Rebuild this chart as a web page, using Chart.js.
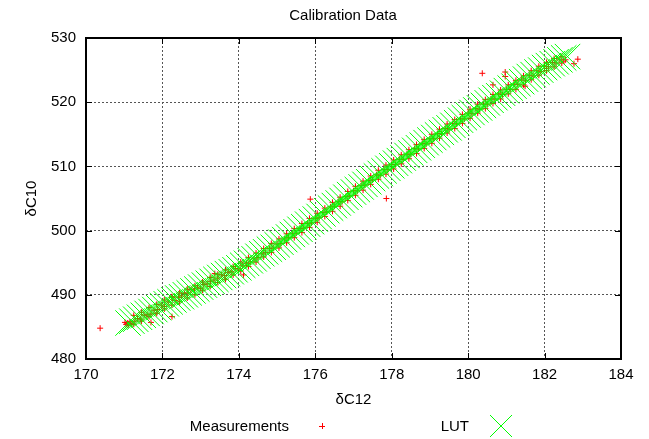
<!DOCTYPE html>
<html>
<head>
<meta charset="utf-8">
<script src="https://cdn.jsdelivr.net/npm/chart.js@4.4.1/dist/chart.umd.min.js"></script>
<style>
body { margin: 0; background: #fff; }
#wrap { width: 649px; height: 439px; }
</style>
</head>
<body>
<div id="wrap"><canvas id="calChart" width="649" height="439"></canvas></div>
<script>
// measured points (δC12, δC10): core of the band plus the outliers
const measX = [
  170.37, 171.02, 171.05, 171.08, 171.10, 171.12, 171.15, 171.20, 171.28, 171.35,
  171.43, 171.52, 171.60, 171.70, 171.70, 171.78, 171.88, 171.97, 172.05, 172.15,
  172.25, 172.25, 172.33, 172.42, 172.50, 172.58, 172.67, 172.75, 172.84, 172.92,
  173.00, 173.08, 173.17, 173.26, 173.37, 173.35, 173.45, 173.55, 173.62, 173.72,
  173.80, 173.90, 174.00, 174.12, 174.10, 174.20, 174.30, 174.40, 174.50, 174.60,
  174.70, 174.80, 174.90, 175.00, 175.10, 175.20, 175.30, 175.40, 175.50, 175.60,
  175.70, 175.80, 175.87, 175.90, 176.00, 176.10, 176.20, 176.30, 176.40, 176.50,
  176.60, 176.70, 176.80, 176.90, 177.00, 177.10, 177.20, 177.30, 177.40, 177.50,
  177.60, 177.70, 177.80, 177.86, 177.90, 178.00, 178.10, 178.20, 178.30, 178.40,
  178.50, 178.60, 178.70, 178.80, 178.90, 179.00, 179.10, 179.20, 179.30, 179.40,
  179.50, 179.60, 179.70, 179.80, 179.90, 180.00, 180.10, 180.20, 180.30, 180.37,
  180.40, 180.50, 180.60, 180.65, 180.70, 180.80, 180.90, 180.97, 180.97, 181.00,
  181.10, 181.20, 181.30, 181.40, 181.49, 181.50, 181.60, 181.70, 181.80, 181.90,
  182.00, 182.10, 182.20, 182.30, 182.40, 182.50, 182.55, 182.77, 182.87
];
const measY = [
  484.8, 485.7, 485.4, 485.6, 485.3, 485.5, 485.8, 485.5, 485.9, 486.3,
  486.2, 486.8, 486.9, 487.0, 485.7, 487.6, 487.7, 488.4, 488.2, 488.9,
  489.6, 486.6, 489.1, 489.6, 489.8, 490.2, 490.3, 490.8, 490.9, 491.2,
  491.0, 491.6, 491.7, 492.1, 493.3, 492.3, 492.6, 493.1, 493.0, 493.5,
  493.6, 494.1, 494.0, 493.1, 494.6, 494.9, 495.1, 495.6, 495.8, 496.4,
  496.6, 497.2, 497.3, 497.9, 498.0, 498.7, 498.9, 499.5, 499.6, 500.3,
  500.4, 501.1, 504.9, 501.2, 501.9, 502.0, 502.8, 502.9, 503.7, 503.8,
  504.5, 504.5, 505.3, 505.4, 506.2, 506.2, 507.0, 507.1, 507.8, 507.9,
  508.7, 508.6, 509.5, 505.0, 509.5, 510.3, 510.3, 511.1, 511.1, 511.9,
  511.9, 512.8, 512.7, 513.6, 513.5, 514.3, 514.3, 515.1, 515.1, 515.9,
  515.8, 516.7, 516.6, 517.4, 517.4, 518.3, 518.2, 519.0, 518.9, 524.5,
  519.7, 519.7, 520.5, 522.7, 520.5, 521.3, 521.2, 524.7, 524.0, 522.0,
  522.0, 522.8, 522.8, 523.6, 522.5, 523.4, 524.2, 524.1, 524.9, 524.8,
  525.6, 525.5, 526.2, 526.1, 526.6, 526.4, 526.6, 526.0, 526.7
];

// measured points scattered along both edges of the band
const edgeX = [
  171.25, 171.45, 171.65, 171.85, 172.05, 172.25, 172.45, 172.65, 172.85, 173.05,
  173.25, 173.45, 173.65, 173.85, 174.05, 174.25, 174.45, 174.65, 174.85, 175.05,
  175.25, 175.45, 175.65, 175.85, 176.05, 176.25, 176.45, 176.65, 176.85, 177.05,
  177.25, 177.45, 177.65, 177.85, 178.05, 178.25, 178.45, 178.65, 178.85, 179.05,
  179.25, 179.45, 179.65, 179.85, 180.05, 180.25, 180.45, 180.65, 180.85, 181.05,
  181.25, 181.45, 181.65, 181.85, 182.05, 182.25, 182.45
];
const edgeYUpper = [
  486.8, 487.3, 488.0, 488.5, 489.2, 489.7, 490.3, 490.9, 491.4, 492.0,
  492.7, 493.2, 493.9, 494.4, 495.1, 495.8, 496.5, 497.2, 498.0, 498.7,
  499.5, 500.3, 501.1, 501.9, 502.7, 503.5, 504.4, 505.2, 506.1, 506.9,
  507.7, 508.5, 509.4, 510.2, 511.0, 511.8, 512.6, 513.4, 514.2, 515.0,
  515.8, 516.6, 517.3, 518.1, 518.9, 519.7, 520.4, 521.2, 521.9, 522.7,
  523.4, 524.1, 524.9, 525.6, 526.2, 526.8, 527.1
];
const edgeYLower = [
  485.4, 485.9, 486.6, 487.1, 487.8, 488.4, 488.9, 489.5, 490.0, 490.7,
  491.3, 491.9, 492.4, 493.1, 493.7, 494.4, 495.1, 495.9, 496.6, 497.3,
  498.1, 498.9, 499.7, 500.5, 501.3, 502.2, 503.0, 503.8, 504.7, 505.5,
  506.3, 507.2, 508.0, 508.8, 509.6, 510.4, 511.2, 512.0, 512.8, 513.6,
  514.4, 515.2, 515.9, 516.7, 517.5, 518.3, 519.0, 519.8, 520.5, 521.3,
  522.0, 522.7, 523.5, 524.2, 524.9, 525.5, 526.1
];

// look-up table points
const lutX = [
  171.1, 171.2, 171.3, 171.4, 171.5, 171.6, 171.7, 171.8, 171.9, 172.0,
  172.1, 172.2, 172.3, 172.4, 172.5, 172.6, 172.7, 172.8, 172.9, 173.0,
  173.1, 173.2, 173.3, 173.4, 173.5, 173.6, 173.7, 173.8, 173.9, 174.0,
  174.1, 174.2, 174.3, 174.4, 174.5, 174.6, 174.7, 174.8, 174.9, 175.0,
  175.1, 175.2, 175.3, 175.4, 175.5, 175.6, 175.7, 175.8, 175.9, 176.0,
  176.1, 176.2, 176.3, 176.4, 176.5, 176.6, 176.7, 176.8, 176.9, 177.0,
  177.1, 177.2, 177.3, 177.4, 177.5, 177.6, 177.7, 177.8, 177.9, 178.0,
  178.1, 178.2, 178.3, 178.4, 178.5, 178.6, 178.7, 178.8, 178.9, 179.0,
  179.1, 179.2, 179.3, 179.4, 179.5, 179.6, 179.7, 179.8, 179.9, 180.0,
  180.1, 180.2, 180.3, 180.4, 180.5, 180.6, 180.7, 180.8, 180.9, 181.0,
  181.1, 181.2, 181.3, 181.4, 181.5, 181.6, 181.7, 181.8, 181.9, 182.0,
  182.1, 182.2, 182.3, 182.4, 182.5, 182.6
];
const lutY = [
  485.6, 485.9, 486.2, 486.5, 486.8, 487.1, 487.4, 487.7, 488.0, 488.3,
  488.6, 488.9, 489.2, 489.5, 489.7, 490.0, 490.3, 490.6, 490.9, 491.2,
  491.5, 491.8, 492.1, 492.4, 492.7, 493.0, 493.3, 493.6, 493.9, 494.2,
  494.6, 494.9, 495.3, 495.6, 496.0, 496.4, 496.7, 497.1, 497.4, 497.8,
  498.2, 498.6, 499.0, 499.4, 499.8, 500.2, 500.6, 501.0, 501.4, 501.8,
  502.2, 502.6, 503.1, 503.5, 503.9, 504.3, 504.7, 505.2, 505.6, 506.0,
  506.4, 506.8, 507.2, 507.6, 508.1, 508.5, 508.9, 509.3, 509.7, 510.1,
  510.5, 510.9, 511.3, 511.7, 512.1, 512.5, 512.9, 513.3, 513.7, 514.1,
  514.5, 514.9, 515.3, 515.7, 516.0, 516.4, 516.8, 517.2, 517.6, 518.0,
  518.4, 518.8, 519.1, 519.5, 519.9, 520.3, 520.7, 521.0, 521.4, 521.8,
  522.2, 522.5, 522.9, 523.2, 523.6, 524.0, 524.3, 524.7, 525.0, 525.4,
  525.7, 526.0, 526.3, 526.6, 526.9, 527.1
];

const xTicks = [170, 172, 174, 176, 178, 180, 182, 184];
const yTicks = [480, 490, 500, 510, 520, 530];

const FONT = 'Liberation Sans, Arial, sans-serif';
const RED = '#ff0000';
const GREEN = '#00ff00';

const measPoints = measX.map((v, i) => ({x: v, y: measY[i]}))
  .concat(edgeX.map((v, i) => ({x: v, y: edgeYUpper[i]})))
  .concat(edgeX.map((v, i) => ({x: v, y: edgeYLower[i]})));

// gnuplot-like frame, inward tics, title and key
const gnuplotLook = {
  id: 'gnuplotLook',
  afterDatasetsDraw(chart) {
    const {ctx, chartArea: a, scales: {x, y}} = chart;
    ctx.save();
    ctx.strokeStyle = '#000';
    ctx.lineWidth = 1;
    ctx.beginPath();
    xTicks.forEach(v => {
      const px = Math.round(x.getPixelForValue(v)) + 0.5;
      ctx.moveTo(px, a.bottom); ctx.lineTo(px, a.bottom - 6);
      ctx.moveTo(px, a.top); ctx.lineTo(px, a.top + 6);
    });
    yTicks.forEach(v => {
      const py = Math.round(y.getPixelForValue(v)) + 0.5;
      ctx.moveTo(a.left, py); ctx.lineTo(a.left + 6, py);
      ctx.moveTo(a.right, py); ctx.lineTo(a.right - 6, py);
    });
    ctx.stroke();
    ctx.lineWidth = 2;
    ctx.strokeRect(a.left, a.top, a.right - a.left, a.bottom - a.top);
    ctx.restore();
  },
  afterDraw(chart) {
    const ctx = chart.ctx;
    ctx.save();
    ctx.fillStyle = '#000';
    ctx.font = '15px ' + FONT;
    ctx.textBaseline = 'middle';
    ctx.textAlign = 'center';
    ctx.fillText('Calibration Data', 343, 16);

    ctx.textAlign = 'right';
    ctx.fillText('Measurements', 289, 427);
    ctx.fillText('LUT', 469, 427);

    ctx.lineWidth = 1;
    ctx.strokeStyle = RED;
    ctx.beginPath();
    ctx.moveTo(319, 426.5); ctx.lineTo(325, 426.5);
    ctx.moveTo(322.5, 423); ctx.lineTo(322.5, 429);
    ctx.stroke();

    ctx.strokeStyle = GREEN;
    ctx.beginPath();
    ctx.moveTo(490, 415); ctx.lineTo(512, 437);
    ctx.moveTo(512, 415); ctx.lineTo(490, 437);
    ctx.stroke();
    ctx.restore();
  }
};

new Chart(document.getElementById('calChart'), {
  type: 'scatter',
  data: {
    datasets: [{
      label: 'Measurements',
      data: measPoints,
      pointStyle: 'cross',
      pointRadius: 3,
      borderColor: RED,
      backgroundColor: RED,
      borderWidth: 1,
      order: 1
    }, {
      label: 'LUT',
      data: lutX.map((v, i) => ({x: v, y: lutY[i]})),
      pointStyle: 'crossRot',
      pointRadius: 18,
      borderColor: GREEN,
      backgroundColor: GREEN,
      borderWidth: 1,
      order: 0
    }]
  },
  options: {
    responsive: false,
    animation: false,
    events: [],
    layout: { padding: { left: 0, right: 28, top: 38, bottom: 30 } },
    plugins: {
      legend: { display: false },
      title: { display: false },
      tooltip: { enabled: false }
    },
    scales: {
      x: {
        type: 'linear',
        min: 170,
        max: 184,
        afterBuildTicks: s => { s.ticks = xTicks.map(v => ({value: v})); },
        afterFit: s => { s.height = 50; },
        grid: { color: '#555', lineWidth: 1, drawTicks: false },
        border: { display: false, dash: [2, 2] },
        ticks: { color: '#000', padding: 7, font: { family: FONT, size: 15 } },
        title: { display: true, text: 'δC12', color: '#000', padding: 0, font: { family: FONT, size: 15 } }
      },
      y: {
        type: 'linear',
        min: 480,
        max: 530,
        afterBuildTicks: s => { s.ticks = yTicks.map(v => ({value: v})); },
        afterFit: s => { s.width = 86; },
        grid: { color: '#555', lineWidth: 1, drawTicks: false },
        border: { display: false, dash: [2, 2] },
        ticks: { color: '#000', padding: 10, font: { family: FONT, size: 15 } },
        title: { display: true, text: 'δC10', color: '#000', padding: { top: 23, bottom: 0 }, font: { family: FONT, size: 15 } }
      }
    }
  },
  plugins: [gnuplotLook]
});
</script>
</body>
</html>
